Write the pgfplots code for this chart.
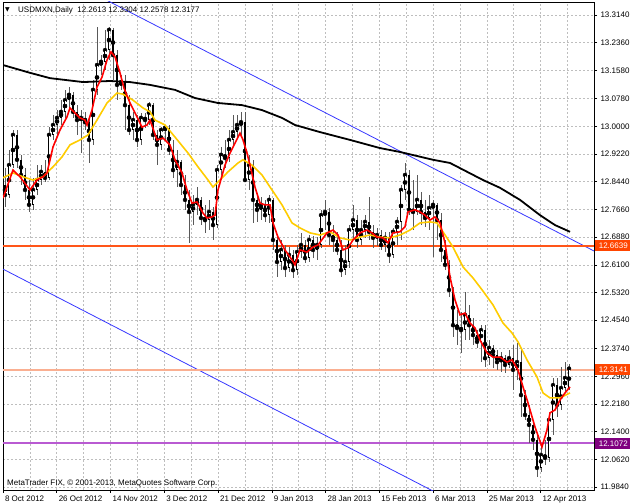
\documentclass[border=0pt]{standalone}
\usepackage{pgfplots}
\usepackage{pgfplotstable}
\pgfplotsset{compat=1.18}
\usepackage{fontspec}
\setmainfont{Liberation Sans}
\newfontfamily\dejavu{DejaVu Sans}

\definecolor{mtred}{RGB}{255,0,0}
\definecolor{mtgold}{RGB}{255,204,0}
\definecolor{mtblue}{RGB}{55,55,255}
\definecolor{levelA}{RGB}{255,85,25}
\definecolor{levelB}{RGB}{250,175,145}
\definecolor{levelC}{RGB}{185,90,210}
\definecolor{boxorange}{RGB}{255,69,0}
\definecolor{boxpurple}{RGB}{128,0,128}
\definecolor{gridgray}{RGB}{190,190,190}

% daily bars: index, open, high, low, close
\pgfplotstableread{
i O H L C
0 12.835 12.883 12.773 12.807
1 12.807 12.934 12.798 12.891
2 12.891 12.990 12.883 12.976
3 12.976 12.990 12.883 12.906
4 12.906 12.920 12.835 12.863
5 12.863 12.883 12.793 12.821
6 12.821 12.849 12.759 12.779
7 12.779 12.855 12.765 12.821
8 12.821 12.891 12.807 12.849
9 12.849 12.891 12.835 12.872
10 12.872 12.906 12.843 12.855
11 12.855 12.998 12.849 12.976
12 12.976 13.032 12.962 13.004
13 13.004 13.046 12.976 13.024
14 13.024 13.074 13.004 13.041
15 13.041 13.103 13.024 13.074
16 13.074 13.111 13.046 13.089
17 13.089 13.097 13.024 13.041
18 13.041 13.060 12.976 13.018
19 13.018 13.046 12.925 13.024
20 13.024 13.041 12.990 13.012
21 13.012 13.024 12.897 12.962
22 12.962 13.131 12.948 13.103
23 13.103 13.280 13.089 13.173
24 13.173 13.201 13.145 13.182
25 13.182 13.272 13.159 13.215
26 13.215 13.280 13.187 13.272
27 13.272 13.277 13.131 13.201
28 13.201 13.215 13.074 13.117
29 13.117 13.145 13.103 13.125
30 13.125 13.145 12.990 13.060
31 13.060 13.089 12.976 12.990
32 12.990 13.041 12.962 13.018
33 13.018 13.032 12.942 12.962
34 12.962 13.038 12.948 13.024
35 13.024 13.038 12.996 13.018
36 13.018 13.069 13.004 13.060
37 13.060 13.066 12.962 12.976
38 12.976 12.990 12.891 12.948
39 12.948 12.998 12.934 12.990
40 12.990 13.004 12.962 12.996
41 12.996 13.004 12.920 12.934
42 12.934 12.962 12.855 12.877
43 12.877 12.934 12.829 12.900
44 12.900 12.906 12.807 12.835
45 12.835 12.863 12.765 12.793
46 12.793 12.821 12.672 12.759
47 12.759 12.807 12.722 12.779
48 12.779 12.829 12.750 12.793
49 12.793 12.801 12.722 12.742
50 12.742 12.779 12.700 12.736
51 12.736 12.793 12.708 12.759
52 12.759 12.773 12.680 12.722
53 12.722 12.891 12.714 12.877
54 12.877 12.942 12.863 12.920
55 12.920 12.962 12.883 12.911
56 12.911 12.990 12.900 12.962
57 12.962 13.032 12.948 12.984
58 12.984 13.032 12.967 13.004
59 13.004 13.041 12.976 13.012
60 13.012 13.041 12.843 12.849
61 12.849 12.920 12.821 12.891
62 12.891 12.906 12.728 12.793
63 12.793 12.807 12.731 12.765
64 12.765 12.801 12.736 12.779
65 12.779 12.793 12.731 12.750
66 12.750 12.807 12.728 12.793
67 12.793 12.798 12.652 12.680
68 12.680 12.694 12.576 12.618
69 12.618 12.680 12.595 12.652
70 12.652 12.666 12.576 12.601
71 12.601 12.660 12.590 12.638
72 12.638 12.652 12.573 12.595
73 12.595 12.666 12.581 12.646
74 12.646 12.700 12.629 12.666
75 12.666 12.680 12.615 12.629
76 12.629 12.694 12.618 12.680
77 12.680 12.691 12.629 12.652
78 12.652 12.688 12.624 12.666
79 12.666 12.765 12.658 12.750
80 12.750 12.793 12.708 12.759
81 12.759 12.770 12.666 12.694
82 12.694 12.722 12.646 12.680
83 12.680 12.703 12.638 12.652
84 12.652 12.680 12.576 12.595
85 12.595 12.666 12.581 12.618
86 12.618 12.722 12.601 12.708
87 12.708 12.779 12.680 12.736
88 12.736 12.750 12.658 12.680
89 12.680 12.736 12.666 12.708
90 12.708 12.750 12.686 12.731
91 12.731 12.801 12.680 12.703
92 12.703 12.722 12.658 12.686
93 12.686 12.714 12.663 12.694
94 12.694 12.708 12.652 12.666
95 12.666 12.703 12.646 12.686
96 12.686 12.703 12.615 12.638
97 12.638 12.714 12.629 12.703
98 12.703 12.745 12.666 12.731
99 12.731 12.835 12.680 12.821
100 12.821 12.897 12.793 12.863
101 12.863 12.877 12.750 12.765
102 12.765 12.849 12.708 12.759
103 12.759 12.863 12.750 12.793
104 12.793 12.815 12.722 12.759
105 12.759 12.793 12.717 12.742
106 12.742 12.807 12.708 12.770
107 12.770 12.793 12.632 12.779
108 12.779 12.784 12.680 12.736
109 12.736 12.756 12.618 12.652
110 12.652 12.680 12.595 12.610
111 12.610 12.624 12.519 12.539
112 12.539 12.547 12.407 12.440
113 12.440 12.483 12.384 12.432
114 12.432 12.477 12.362 12.426
115 12.426 12.533 12.398 12.469
116 12.469 12.497 12.398 12.440
117 12.440 12.460 12.384 12.412
118 12.412 12.426 12.376 12.393
119 12.393 12.440 12.336 12.426
120 12.426 12.440 12.322 12.347
121 12.347 12.398 12.328 12.376
122 12.376 12.384 12.319 12.356
123 12.356 12.370 12.314 12.336
124 12.336 12.364 12.308 12.347
125 12.347 12.356 12.305 12.328
126 12.328 12.370 12.319 12.347
127 12.347 12.384 12.257 12.314
128 12.314 12.390 12.285 12.336
129 12.336 12.370 12.181 12.243
130 12.243 12.257 12.173 12.187
131 12.187 12.215 12.108 12.159
132 12.159 12.173 12.088 12.117
133 12.117 12.136 12.012 12.038
134 12.038 12.103 12.026 12.074
135 12.074 12.117 12.046 12.066
136 12.066 12.181 12.055 12.173
137 12.173 12.291 12.131 12.271
138 12.271 12.291 12.181 12.215
139 12.215 12.322 12.201 12.263
140 12.263 12.336 12.249 12.291
141 12.2613 12.3304 12.2578 12.3177
}\bars

\begin{document}
\begin{tikzpicture}
\begin{axis}[
  at={(3pt,14pt)}, anchor=south west,
  width=591pt, height=488pt, scale only axis,
  xmin=-0.5, xmax=147.25,
  ymin=11.9755, ymax=13.3506,
  axis line style={black, line width=0.8pt},
  xtick pos=bottom, ytick pos=right,
  yticklabel pos=right,
  tick align=outside,
  major tick length=3pt, minor tick length=0pt,
  tick style={black, line width=0.6pt},
  xtick={-0.5,12.94,26.38,39.82,53.26,66.7,80.14,93.58,107.02,120.46,133.9},
  xticklabels={8 Oct 2012,26 Oct 2012,14 Nov 2012,3 Dec 2012,21 Dec 2012,9 Jan 2013,28 Jan 2013,15 Feb 2013,6 Mar 2013,25 Mar 2013,12 Apr 2013},
  minor xtick={6.22,19.66,33.1,46.54,59.98,73.42,86.86,100.3,113.74,127.18,140.62},
  ytick={11.984,12.062,12.140,12.218,12.296,12.374,12.454,12.532,12.610,12.688,12.766,12.844,12.922,13.000,13.078,13.158,13.236,13.314},
  yticklabels={11.9840,12.0620,12.1400,12.2180,12.2960,12.3740,12.4540,12.5320,12.6100,12.6880,12.7660,12.8440,12.9220,13.0000,13.0780,13.1580,13.2360,13.3140},
  xmajorgrids, xminorgrids, ymajorgrids,
  grid style={gridgray, dash pattern=on 2pt off 2pt, line width=0.6pt},
  minor grid style={gridgray, dash pattern=on 2pt off 2pt, line width=0.6pt},
  ticklabel style={font=\fontsize{8}{9}\selectfont, text=black},
  xticklabel style={anchor=north west, xshift=-1.5pt, yshift=1pt},
  yticklabel style={anchor=west},
  clip mode=individual,
]
% channel lines
\addplot[color=mtblue, solid, line width=0.8pt] coordinates {(-0.5,13.506) (147.25,12.649)};
\addplot[color=mtblue, solid, line width=0.8pt] coordinates {(-0.5,12.598) (120,11.897)};
% horizontal levels
\addplot[color=levelA, solid, line width=2pt] coordinates {(-0.5,12.6639) (147.25,12.6639)};
\addplot[color=levelB, solid, line width=2.4pt] coordinates {(-0.5,12.3141) (147.25,12.3141)};
\addplot[color=levelC, solid, line width=2pt] coordinates {(-0.5,12.1072) (147.25,12.1072)};

% wicks
\addplot[only marks, mark=none,
  error bars/.cd, y dir=both, y explicit, error mark=none,
  error bar style={solid, draw=black!65, line width=0.85pt}]
  table[x=i, y=C, y error plus expr=\thisrow{H}-\thisrow{C}, y error minus expr=\thisrow{C}-\thisrow{L}] {\bars};
% bodies
\addplot[only marks, mark=none,
  error bars/.cd, y dir=both, y explicit, error mark=none,
  error bar style={solid, draw=black, line width=2.6pt}]
  table[x=i, y expr=(\thisrow{O}+\thisrow{C})/2, y error expr=abs(\thisrow{C}-\thisrow{O})/2] {\bars};
% hollow inside of rising bars
\addplot[only marks, mark=none,
  error bars/.cd, y dir=both, y explicit, error mark=none,
  error bar style={solid, draw=white, line width=1pt}]
  table[x=i, y expr=(\thisrow{O}+\thisrow{C})/2,
    y error expr={ifthenelse(\thisrow{C}>\thisrow{O},max((\thisrow{C}-\thisrow{O})/2-0.003,0),0)}] {\bars};

% long average
\addplot[black, line width=1.8pt] coordinates {
(-0.5,13.173) (6.25,13.151) (11.25,13.136) (19.5,13.125) (26.25,13.128) (31.25,13.125)
(36.25,13.117) (42.5,13.103) (47.5,13.080) (53.25,13.066) (59.25,13.060) (64.25,13.046)
(69.25,13.024) (72.5,13.004) (78.75,12.984) (86.25,12.962) (93.75,12.939) (98.75,12.928)
(107,12.906) (111.25,12.897) (119.5,12.849) (123.75,12.827) (128.75,12.793) (133.75,12.750)
(137.5,12.722) (141.25,12.703)};
% medium average
\addplot[mtgold, line width=1.6pt] coordinates {
(-0.5,12.855) (2,12.869) (4.5,12.858) (7,12.849) (9.5,12.858) (12,12.886) (14.25,12.914)
(16.25,12.948) (18.75,12.962) (20.75,12.976) (23,13.018) (25.5,13.066) (28,13.094)
(29.5,13.091) (32,13.074) (34.5,13.052) (36.25,13.041) (37.5,13.018) (40,13.004)
(42.5,12.970) (45.75,12.925) (48.25,12.886) (50.75,12.849) (52,12.829) (53.75,12.849)
(55.75,12.872) (58.25,12.897) (59.5,12.906) (61.75,12.891) (64.25,12.863) (66.75,12.821)
(69.25,12.779) (71.75,12.728) (73.75,12.714) (76.25,12.700) (78.75,12.694) (81.25,12.703)
(83.75,12.686) (86.25,12.680) (88.75,12.688) (91.25,12.694) (93.75,12.688) (96.25,12.686)
(98.75,12.694) (101.25,12.708) (103.75,12.728) (106.25,12.731) (108,12.728) (109.5,12.703)
(112,12.660) (114.5,12.604) (117,12.573) (119.5,12.536) (122,12.497) (124.5,12.446)
(126.75,12.418) (128.25,12.393) (130.5,12.342) (133,12.294) (134.5,12.249) (136.25,12.235)
(138.75,12.235) (141.25,12.249)};
% short average
\addplot[mtred, line width=1.6pt] coordinates {
(-0.5,12.798) (2,12.877) (3.75,12.858) (6.25,12.821) (8,12.849) (9.5,12.858) (10.5,12.869)
(12,12.942) (13.75,12.990) (15.5,13.027) (16.25,13.052) (17.5,13.038) (18.75,13.024)
(20,13.018) (20.5,13.004) (21.75,13.046) (23,13.111) (24.25,13.139) (25.5,13.187)
(26.5,13.210) (27.5,13.196) (28.75,13.151) (29.75,13.108) (31.25,13.066) (33,13.027)
(34.25,12.998) (35.5,13.004) (36.25,13.018) (38,12.962) (39.5,12.967) (41.25,12.948)
(42.5,12.906) (44.25,12.869) (45.5,12.821) (46.75,12.784) (48,12.787) (49.5,12.756)
(50.5,12.742) (51.75,12.745) (52.5,12.750) (53.25,12.821) (55,12.891) (56.25,12.925)
(57.5,12.953) (58.75,12.981) (59.5,12.962) (60.5,12.925) (61.25,12.891) (62.5,12.829)
(63.75,12.784) (65,12.779) (66.25,12.779) (67,12.728) (68.25,12.688) (70,12.652)
(71.75,12.624) (72.5,12.610) (73.75,12.652) (75.5,12.646) (77,12.660) (78.25,12.666)
(80.5,12.700) (82,12.708) (83.25,12.694) (84.5,12.652) (85.75,12.658) (87,12.680)
(88.75,12.700) (90.5,12.708) (91.75,12.700) (93,12.688) (94.5,12.686) (95.75,12.672)
(97,12.700) (98.75,12.703) (100,12.717) (100.75,12.759) (102.5,12.765) (103.75,12.759)
(105,12.750) (106.25,12.736) (107.5,12.745) (108.75,12.728) (110,12.672) (111.25,12.576)
(112.5,12.511) (113.75,12.469) (115,12.474) (116.25,12.446) (117.5,12.432) (118.75,12.398)
(120.5,12.362) (122,12.350) (123.75,12.350) (125.5,12.336) (126.75,12.342) (128.25,12.314)
(129.5,12.266) (130.75,12.221) (132.5,12.153) (134.25,12.097) (135.5,12.145) (136.25,12.193)
(137.5,12.201) (138.75,12.229) (140,12.249) (141.25,12.266)};

\coordinate (tl) at (rel axis cs:0,1);
\coordinate (bl) at (rel axis cs:0,0);
\coordinate (lvA) at (axis cs:147.25,12.6639);
\coordinate (lvB) at (axis cs:147.25,12.3141);
\coordinate (lvC) at (axis cs:147.25,12.1072);
\end{axis}

\begin{scope}[font=\fontsize{8}{9}\selectfont]
\node[anchor=west, inner sep=0pt] at ([xshift=2pt,yshift=-8pt]tl) {{\dejavu\fontsize{6}{6}\selectfont ▼}};
\node[anchor=west, inner sep=0pt] at ([xshift=15pt,yshift=-8pt]tl) {USDMXN,Daily\ \ 12.2613 12.3304 12.2578 12.3177};
\node[anchor=south west, inner sep=0pt] at ([xshift=4pt,yshift=3pt]bl) {MetaTrader FIX, © 2001-2013, MetaQuotes Software Corp.};
\node[anchor=west, fill=boxorange, text=white, inner xsep=4pt, inner ysep=0pt, minimum height=11pt] at ([xshift=0.6pt]lvA) {12.6639};
\node[anchor=west, fill=boxorange, text=white, inner xsep=4pt, inner ysep=0pt, minimum height=11pt] at ([xshift=0.6pt]lvB) {12.3141};
\node[anchor=west, fill=boxpurple, text=white, inner xsep=4pt, inner ysep=0pt, minimum height=11pt] at ([xshift=0.6pt]lvC) {12.1072};
\end{scope}

\pgfresetboundingbox
\path (0pt,0pt) rectangle (630pt,504pt);
\end{tikzpicture}
\end{document}
